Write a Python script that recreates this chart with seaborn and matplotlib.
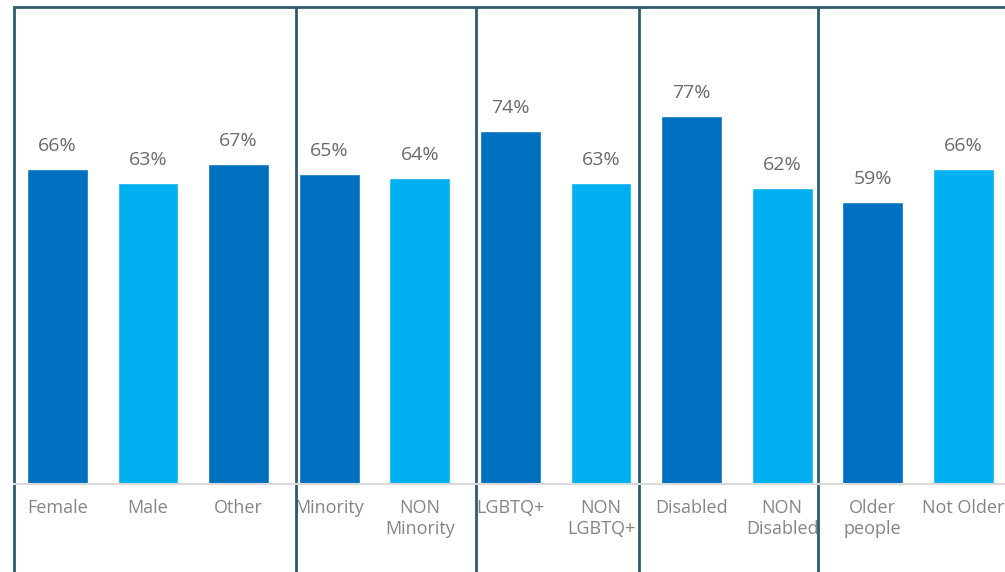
import matplotlib
matplotlib.use("Agg")
import matplotlib.pyplot as plt
import seaborn as sns
import pandas as pd

categories = ["Female", "Male", "Other", "Minority", "NON\nMinority", "LGBTQ+",
              "NON\nLGBTQ+", "Disabled", "NON\nDisabled", "Older\npeople", "Not Older"]
values = [66, 63, 67, 65, 64, 74, 63, 77, 62, 59, 66]
shades = ["dark", "light", "dark", "dark", "light", "dark", "light", "dark", "light", "dark", "light"]
separators = [2.63, 4.62, 6.42, 8.40]

sns.set_theme(style="white")
plt.rcParams['font.family'] = ['Open Sans', 'DejaVu Sans']

df = pd.DataFrame({"cat": categories, "val": values, "shade": shades})
fig = plt.figure(figsize=(10.05, 5.72), dpi=100)
ax = fig.add_axes([14/1005, 88/572, 1 - 14/1005, (484 - 6.5)/572])

sns.barplot(data=df, x="cat", y="val", hue="shade",
            palette={"dark": "#0070C0", "light": "#00B0F0"},
            dodge=False, width=0.67, legend=False, ax=ax, saturation=1)

for i, v in enumerate(values):
    ax.text(i, v + 4.8, f"{v}%", ha="center", va="center", fontsize=14,
            color="#6A6A6A")

ax.set_xlim(-0.48, 10.46)
ax.set_ylim(0, 100)
ax.set_xlabel("")
ax.set_ylabel("")
ax.set_yticks([])
ax.tick_params(axis="x", length=0, pad=11, labelsize=13, labelcolor="#858585")
for lbl in ax.get_xticklabels():
    lbl.set_linespacing(1.2)
    lbl.set_verticalalignment("top")

ax.spines["right"].set_visible(False)
ax.spines["left"].set_visible(False)
ax.spines["bottom"].set_color("#D9D9D9")
ax.spines["bottom"].set_linewidth(1.5)
ax.spines["top"].set_color("#2F5B6E")
ax.spines["top"].set_linewidth(2)

trans = ax.get_xaxis_transform()
for xs in [-0.48] + separators:
    ax.plot([xs, xs], [-0.2, 1.0], transform=trans, color="#2F5B6E",
            lw=2, clip_on=False, solid_capstyle="butt")

fig.savefig("out.png", dpi=100)
